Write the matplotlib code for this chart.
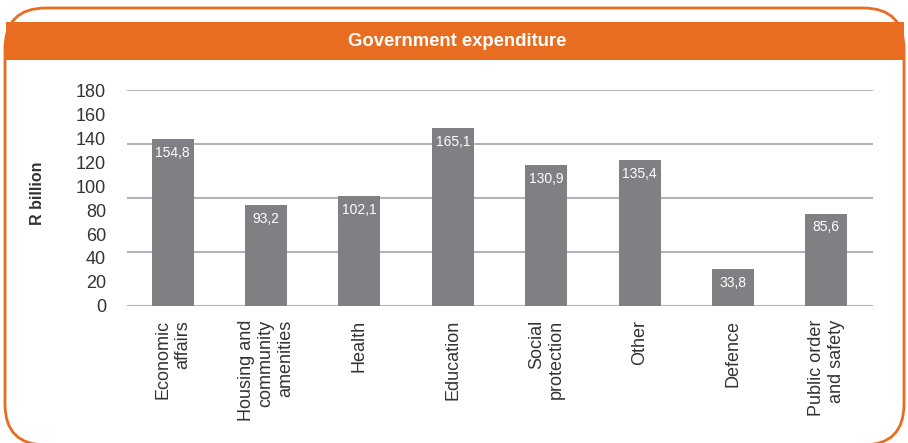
import numpy as np
import matplotlib
matplotlib.use("Agg")
import matplotlib.pyplot as plt
from matplotlib.patches import FancyBboxPatch, Rectangle

plt.rcParams['font.family'] = ['Liberation Sans', 'DejaVu Sans']

categories = ['Economic\naffairs', 'Housing and\ncommunity\namenities', 'Health',
              'Education', 'Social\nprotection', 'Other', 'Defence',
              'Public order\nand safety']
values = [154.8, 93.2, 102.1, 165.1, 130.9, 135.4, 33.8, 85.6]
tick_labels = ['0', '20', '40', '60', '80', '100', '120', '140', '160', '180']
grid_values = [0, 50, 100, 150, 200]

orange = '#e86d21'
bar_grey = '#808084'
text_grey = '#333333'

W, H = 908, 443
fig = plt.figure(figsize=(W / 100, H / 100), dpi=100)

# orange frame + header band (behind the axes)
frame = FancyBboxPatch((5 / W, -2 / H), 899 / W, (H - 6) / H,
                       boxstyle="round,pad=0,rounding_size=0.045",
                       transform=fig.transFigure, facecolor='white',
                       edgecolor=orange, linewidth=2, mutation_aspect=W / H,
                       zorder=-2)
fig.patches.append(frame)
fig.patches.append(Rectangle((6 / W, 1 - 60 / H), 898 / W, 38 / H,
                             transform=fig.transFigure, facecolor=orange,
                             edgecolor='none', zorder=-1))
fig.text(457 / W, 1 - 41 / H, 'Government expenditure', color='white',
         fontsize=13.3, fontweight='bold', ha='center', va='center')

ax = fig.add_axes([127 / W, 1 - 306 / H, 746 / W, 216 / H])
ax.set_facecolor('none')
x = np.arange(len(values))
bars = ax.bar(x, values, width=0.45, color=bar_grey, zorder=3)
for b, v in zip(bars, values):
    ax.annotate(f'{v:.1f}'.replace('.', ','), (b.get_x() + b.get_width() / 2, v),
                xytext=(0, -5), textcoords='offset points', ha='center',
                va='top', color='white', fontsize=10, zorder=4)

ax.set_xlim(-0.49, 7.5)
ax.set_ylim(0, 200)
for g in grid_values:
    ax.axhline(g, color='#b4b4b4', linewidth=1.5, zorder=1)

# the labels in the original are spread evenly over the full axis height
ax.set_yticks(np.linspace(0, 200, len(tick_labels)))
ax.set_yticklabels(tick_labels, fontsize=13, color=text_grey)
ax.tick_params(axis='y', length=0, pad=15)

ax.set_xticks(x)
ax.set_xticklabels(categories, rotation=90, fontsize=13, color=text_grey,
                   va='top', ha='center', multialignment='right')
ax.tick_params(axis='x', length=0, pad=10)

for s in ax.spines.values():
    s.set_visible(False)

fig.text(37 / W, 1 - 193 / H, 'R billion', rotation=90, fontsize=11.5,
         fontweight='bold', color=text_grey, ha='center', va='center')

fig.savefig('out.png', dpi=100)
